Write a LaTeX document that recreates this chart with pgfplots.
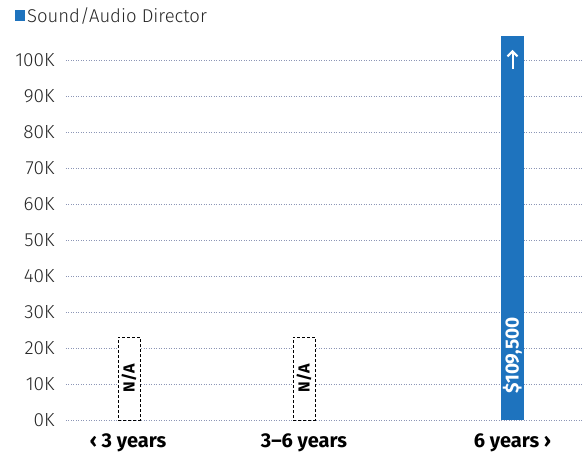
\documentclass[border=0pt]{standalone}
\usepackage{pgfplots}
\pgfplotsset{compat=1.18}
\usetikzlibrary{arrows.meta}
\usepackage{fontspec}
\setmainfont{Fira Sans}
\newfontfamily\lightfont{Fira Sans Light}
\definecolor{barblue}{RGB}{30,115,190}
\definecolor{gridc}{RGB}{140,150,182}
\begin{document}
\begin{tikzpicture}[x=1pt,y=1pt]
\useasboundingbox (-66pt,-35pt) rectangle (517pt,420pt);
\begin{axis}[
  at={(0,0)}, anchor=south west,
  scale only axis, width=517pt, height=383pt,
  xmin=0, xmax=517, ymin=0, ymax=106400,
  axis line style={draw=none},
  scaled y ticks=false,
  ytick={0,10000,...,100000},
  yticklabels={0K,10K,20K,30K,40K,50K,60K,70K,80K,90K,100K},
  yticklabel style={font=\lightfont\fontsize{19}{19}\selectfont\color{black!85}, xshift=-8pt},
  /pgf/number format/assume math mode=true,
  xtick={62,238,446.5},
  xticklabels={‹ 3 years, 3–6 years, 6 years ›},
  xticklabel style={font=\fontsize{20}{20}\selectfont\bfseries, yshift=-10pt},
  major tick length=0pt,
  ymajorgrids, grid style={dash pattern=on 0.9pt off 1.6pt, gridc, line width=0.7pt},
  clip=true,
  legend style={at={(-51pt,404pt)}, anchor=west, draw=none, fill=none,
    font=\lightfont\fontsize{18.5}{18.5}\selectfont\color{black!85}, inner sep=0pt,
    legend cell align=left},
  legend image code/.code={\fill[barblue] (0pt,-5.5pt) rectangle (10pt,5.5pt);},
]
\addplot[ybar, bar width=22pt, fill=white, draw=black, densely dashed, line width=0.9pt, forget plot]
  coordinates {(63,23000) (238,23000)};
\addplot[ybar, bar width=23pt, fill=barblue, draw=none]
  coordinates {(446.5,109500)};
\addlegendentry{Sound/Audio Director}
\node[rotate=90, anchor=west, font=\fontsize{16}{16}\selectfont\bfseries, inner sep=0pt] at (axis cs:63,7700) {N/A};
\node[rotate=90, anchor=west, font=\fontsize{16}{16}\selectfont\bfseries, inner sep=0pt] at (axis cs:238,7700) {N/A};
\node[rotate=90, anchor=west, font=\fontsize{19}{19}\selectfont\bfseries, text=white, inner sep=0pt] at (axis cs:446.5,7300) {\$109,500};
\draw[white, line width=2pt, -{Straight Barb[length=5pt,width=10pt]}] (axis cs:446.5,97500) -- (axis cs:446.5,102800);
\end{axis}
\end{tikzpicture}
\end{document}
